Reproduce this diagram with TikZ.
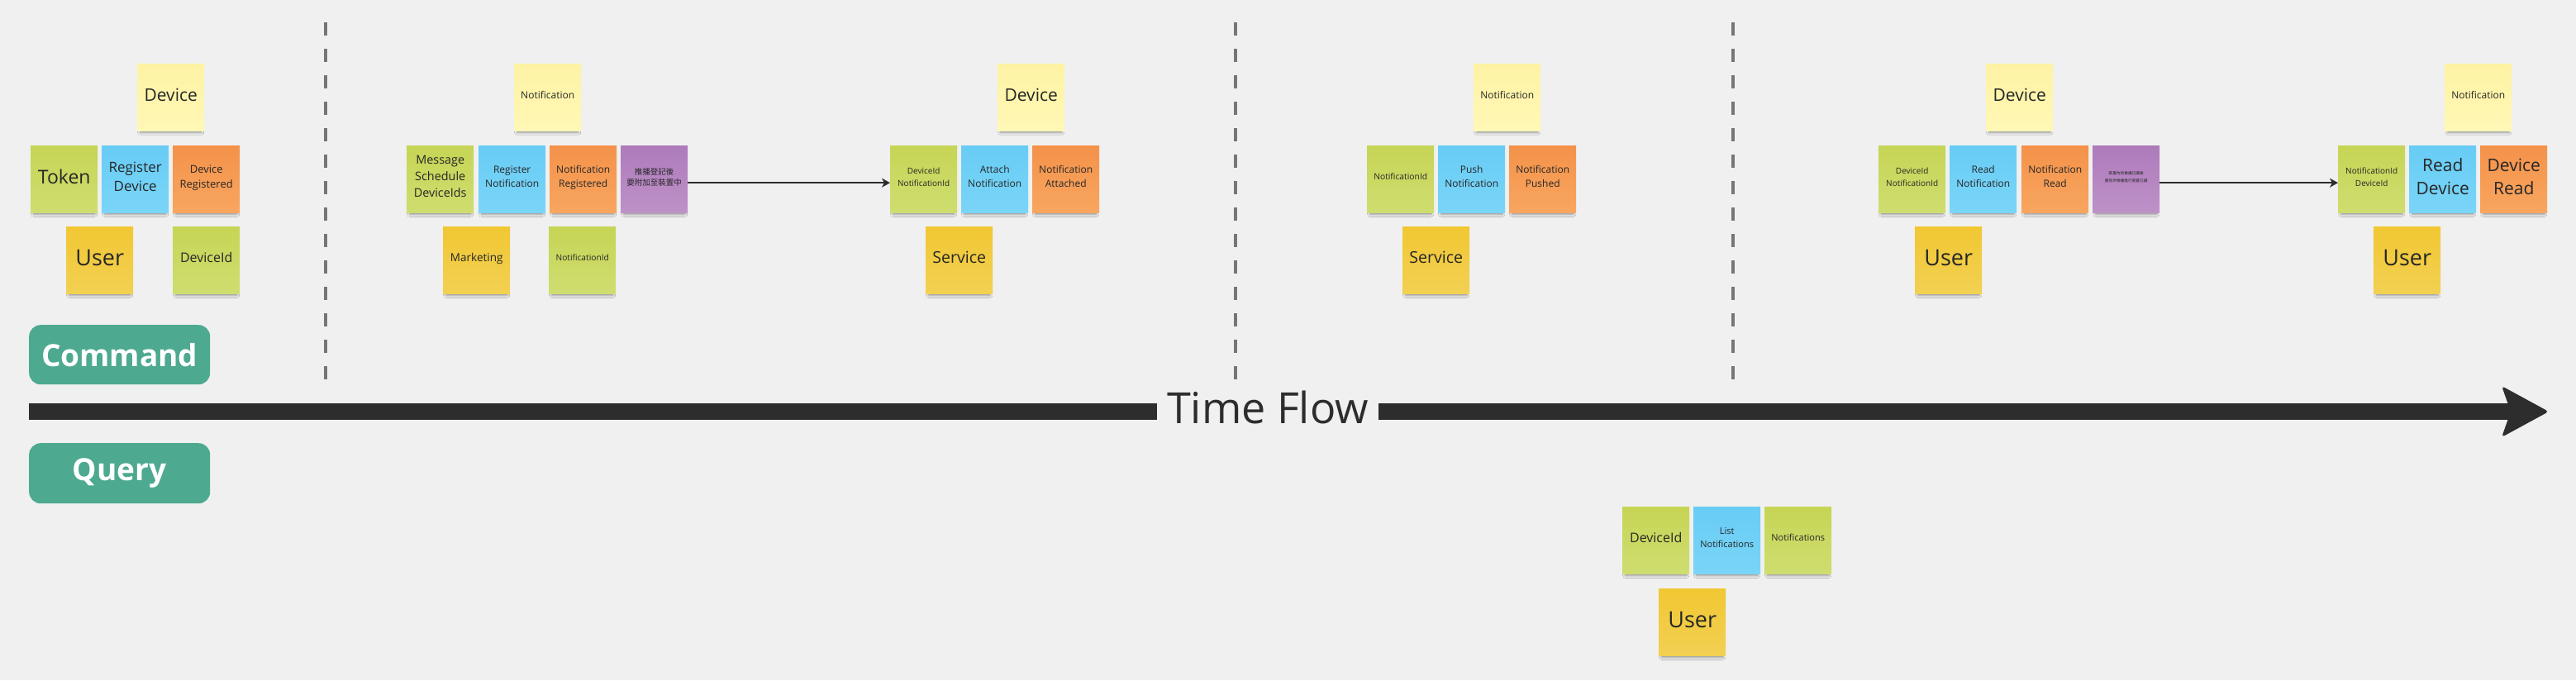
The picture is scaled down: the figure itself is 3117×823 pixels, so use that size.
\documentclass[tikz,border=0pt]{standalone}
\usepackage{fontspec}
\setmainfont{Open Sans}
\newfontfamily\cjk{Noto Sans CJK TC}
\usetikzlibrary{arrows.meta,shadows.blur,calc}
\definecolor{bgc}{HTML}{F0F0F0}
\definecolor{ink}{HTML}{262626}
\definecolor{dark}{HTML}{2D2D2D}
\definecolor{dashc}{HTML}{767676}
\definecolor{teal}{HTML}{4DA990}
\definecolor{lyT}{HTML}{FEF3A4}\definecolor{lyB}{HTML}{FFF7B6}
\definecolor{lmT}{HTML}{C6D555}\definecolor{lmB}{HTML}{CFDD70}
\definecolor{blT}{HTML}{68CCF5}\definecolor{blB}{HTML}{7AD5F7}
\definecolor{orT}{HTML}{F4924A}\definecolor{orB}{HTML}{F8A660}
\definecolor{puT}{HTML}{AE7BBB}\definecolor{puB}{HTML}{BE91C8}
\definecolor{yeT}{HTML}{F1C733}\definecolor{yeB}{HTML}{F2D052}
\newcommand\fsz[2]{\fontsize{#1pt}{#2pt}\selectfont}
\tikzset{
  sticky/.style={inner sep=0pt, minimum width=81pt, minimum height=81pt,
    anchor=north west, align=center, text=ink, text depth=6pt,
    blur shadow={shadow xshift=0pt, shadow yshift=-6pt, shadow scale=0.92,
      shadow blur radius=3pt, shadow opacity=40}},
  lyel/.style={sticky, top color=lyT, bottom color=lyB},
  lime/.style={sticky, top color=lmT, bottom color=lmB},
  blue/.style={sticky, top color=blT, bottom color=blB},
  oran/.style={sticky, top color=orT, bottom color=orB},
  purp/.style={sticky, top color=puT, bottom color=puB},
  yelo/.style={sticky, top color=yeT, bottom color=yeB},
  label/.style={fill=teal, rounded corners=14pt, inner sep=0pt, anchor=north west,
    minimum width=219pt, minimum height=72pt, text=white, font=\fsz{37}{44}\bfseries},
  divider/.style={dashc, line width=4pt, dash pattern=on 16pt off 16pt},
  flowline/.style={dark, line width=20pt},
  thinarrow/.style={dark, line width=2pt, -{Stealth[length=10pt,width=11pt,inset=3pt]}}
}
\begin{document}
\begin{tikzpicture}[x=1pt,y=-1pt]
\fill[bgc] (0,0) rectangle (3117,823);
\useasboundingbox (0,0) rectangle (3117,823);
% dividers
\draw[divider] (394,27) -- (394,459);
\draw[divider] (1495,27) -- (1495,459);
\draw[divider] (2097,27) -- (2097,459);
% labels
\node[label] (cmd) at (35,393) {Command};
\node[label, minimum height=73pt] (qry) at (35,536) {Query};
% time flow
\coordinate (tfs) at (35,498);
\coordinate (tft) at (3084,498);
\node[anchor=base, inner xsep=12pt, inner ysep=0pt, text=dark, font=\fsz{52}{60}] (tf) at (1534,512) {Time Flow};
\draw[flowline] (tfs) -- (tf.west |- tfs);
\draw[flowline] (tf.east |- tfs) -- ($(tft)+(-45,0)$);
\fill[dark, rounded corners=4pt] (tft) -- ++(-57,-31) -- ++(11,31) -- ++(-11,31) -- cycle;
% group 1
\node[lyel, font=\fsz{21}{29}] (dev1) at (166,77) {Device};
\node[lime, font=\fsz{23}{32}] (tok) at (37,176) {Token};
\node[blue, font=\fsz{17}{23}] (regdev) at (123,176) {Register\\Device};
\node[oran, font=\fsz{13}{18}] (devreg) at (209,176) {Device\\Registered};
\node[yelo, font=\fsz{27}{37}] (user1) at (80,274) {User};
\node[lime, font=\fsz{16}{22}] (devid1) at (209,274) {DeviceId};
% group 2
\node[lyel, font=\fsz{12}{17}] (notif2) at (622,77) {Notification};
\node[lime, font=\fsz{14.4}{20}] (msg) at (492,176) {Message\\Schedule\\DeviceIds};
\node[blue, font=\fsz{12}{17}] (regnot) at (579,176) {Register\\Notification};
\node[oran, font=\fsz{12}{17}] (notreg) at (665,176) {Notification\\Registered};
\node[purp, font=\cjk\fsz{9.5}{13}] (pur1) at (751,176) {推播登記後\\要附加至裝置中};
\node[yelo, font=\fsz{13.5}{19}] (mkt) at (536,274) {Marketing};
\node[lime, font=\fsz{10.2}{14.5}] (nid2) at (664,274) {NotificationId};
% group 3
\node[lyel, font=\fsz{21}{29}] (dev3) at (1207,77) {Device};
\node[lime, font=\fsz{10}{15}] (ids3) at (1077,176) {DeviceId\\NotificationId};
\node[blue, font=\fsz{12}{17}] (attach) at (1163,176) {Attach\\Notification};
\node[oran, font=\fsz{12}{17}] (notatt) at (1249,176) {Notification\\Attached};
\node[yelo, font=\fsz{19.6}{27}] (svc3) at (1120,274) {Service};
% group 4
\node[lyel, font=\fsz{12}{17}] (notif4) at (1783,77) {Notification};
\node[lime, font=\fsz{10.3}{15}] (nid4) at (1654,176) {NotificationId};
\node[blue, font=\fsz{12}{17}] (push) at (1740,176) {Push\\Notification};
\node[oran, font=\fsz{12}{17}] (pushed) at (1826,176) {Notification\\Pushed};
\node[yelo, font=\fsz{19.6}{27}] (svc4) at (1697,274) {Service};
% group 5
\node[lyel, font=\fsz{21}{29}] (dev5) at (2403,77) {Device};
\node[lime, font=\fsz{10}{15}] (ids5) at (2273,176) {DeviceId\\NotificationId};
\node[blue, font=\fsz{12}{17}] (readnot) at (2359,176) {Read\\Notification};
\node[oran, font=\fsz{12}{17}] (notread) at (2446,176) {Notification\\Read};
\node[purp, font=\cjk\fsz{4.7}{8.7}] (pur2) at (2532,176) {裝置內的推播已讀後\\要同步推播進行裝置已讀};
\node[yelo, font=\fsz{27}{37}] (user5) at (2317,274) {User};
% group 6
\node[lyel, font=\fsz{12}{17}] (notif6) at (2958,77) {Notification};
\node[lime, font=\fsz{10}{15}] (ids6) at (2829,176) {NotificationId\\DeviceId};
\node[blue, font=\fsz{21}{28}] (readdev) at (2915,176) {Read\\Device};
\node[oran, font=\fsz{21}{28}] (devread) at (3001,176) {Device\\Read};
\node[yelo, font=\fsz{27}{37}] (user6) at (2872,274) {User};
% query group
\node[lime, font=\fsz{16}{22}] (qdev) at (1963,613) {DeviceId};
\node[blue, font=\fsz{11}{16}] (list) at (2049,613) {List\\Notifications};
\node[lime, font=\fsz{11}{16}] (notifs) at (2135,613) {Notifications};
\node[yelo, font=\fsz{27}{37}] (quser) at (2007,712) {User};
% connectors
\draw[thinarrow] ([yshift=-4.5pt]pur1.east) -- ([yshift=-4.5pt]ids3.west);
\draw[thinarrow] ([yshift=-4.5pt]pur2.east) -- ([yshift=-4.5pt]ids6.west);
\end{tikzpicture}
\end{document}
